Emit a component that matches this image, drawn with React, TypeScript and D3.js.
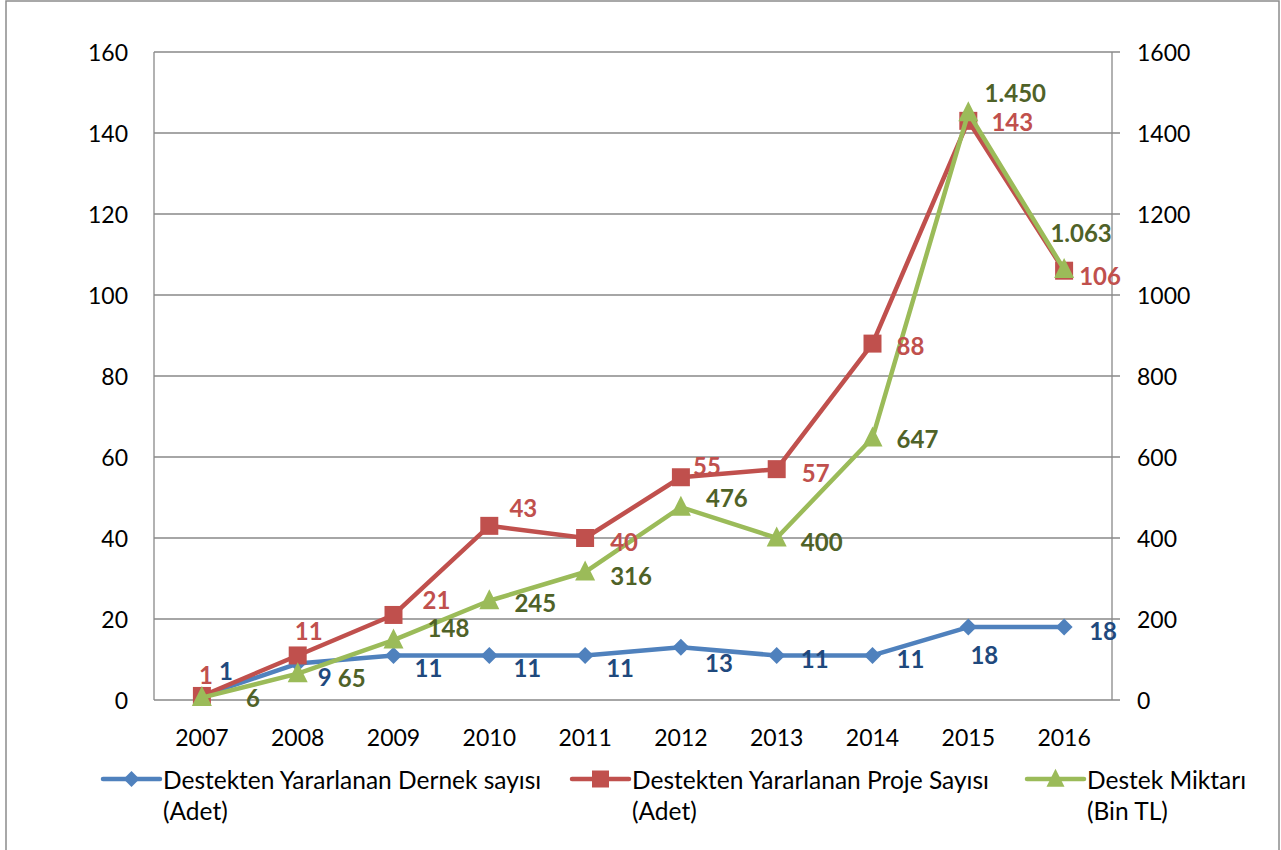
import React from "react";
import * as d3 from "d3";

const years = ["2007", "2008", "2009", "2010", "2011", "2012", "2013", "2014", "2015", "2016"];
const dernekSayisi = [1, 9, 11, 11, 11, 13, 11, 11, 18, 18];
const projeSayisi = [1, 11, 21, 43, 40, 55, 57, 88, 143, 106];
const destekMiktari = [6, 65, 148, 245, 316, 476, 400, 647, 1450, 1063];
const destekLabels = ["6", "65", "148", "245", "316", "476", "400", "647", "1.450", "1.063"];
const leftTicks = [0, 20, 40, 60, 80, 100, 120, 140, 160];
const rightTicks = [0, 200, 400, 600, 800, 1000, 1200, 1400, 1600];
const legendNames = [
  ["Destekten Yararlanan Dernek sayısı", "(Adet)"],
  ["Destekten Yararlanan Proje Sayısı", "(Adet)"],
  ["Destek Miktarı", "(Bin TL)"],
];

// label offsets (layout only)
const blueOff = [[24, -25], [27, 13], [35, 12], [38, 12], [35, 12], [38, 15], [38, 3], [38, 3], [16, 27], [39, 3]];
const redOff = [[4, -21], [11, -25], [43, -15], [34, -18], [39, 3], [26, -12], [39, 3], [38, 2], [44, 1], [36, 5]];
const greenOff = [[51, 0], [54, 4], [55, -13], [46, 2], [46, 3], [46, -10], [45, 3], [45, 1], [47, -20], [17, -37]];

const W = 1281, H = 850;
const L = 154, R = 1112, T = 52, B = 700;
const FONT = "Lato, 'Open Sans', sans-serif";
const BLUE = "#4F81BD", RED = "#C0504D", GREEN = "#9BBB59";
const BLUE_T = "#1F497D", RED_T = "#C0504D", GREEN_T = "#4F6228";

export default function App() {
  const x = d3.scaleBand().domain(years).range([L, R]);
  const cx = (i: number) => (x(years[i]) as number) + x.bandwidth() / 2;
  const yL = d3.scaleLinear().domain([0, 160]).range([B, T]);
  const yR = d3.scaleLinear().domain([0, 1600]).range([B, T]);
  const line = d3.line<[number, number]>().x(d => d[0]).y(d => d[1]);

  const blueP = dernekSayisi.map((v, i) => [cx(i), yL(v)] as [number, number]);
  const redP = projeSayisi.map((v, i) => [cx(i), yL(v)] as [number, number]);
  const greenP = destekMiktari.map((v, i) => [cx(i), yR(v)] as [number, number]);

  const diamond = (px: number, py: number, s = 8.5) => `M${px},${py - s}L${px + s},${py}L${px},${py + s}L${px - s},${py}Z`;
  const square = (px: number, py: number, s = 9) => `M${px - s},${py - s}h${2 * s}v${2 * s}h${-2 * s}Z`;
  const tri = (px: number, py: number, s = 10) => `M${px},${py - s * 1.15}L${px + s},${py + s * 0.85}L${px - s},${py + s * 0.85}Z`;

  const legendX = [103, 572, 1027];
  const markers = [
    (px: number, py: number) => <path d={diamond(px, py, 8)} fill={BLUE} />,
    (px: number, py: number) => <path d={square(px, py, 8.5)} fill={RED} />,
    (px: number, py: number) => <path d={tri(px, py, 9)} fill={GREEN} />,
  ];
  const legendColors = [BLUE, RED, GREEN];

  return (
    <svg width={W} height={H} style={{ position: "absolute", left: 0, top: 0 }} fontFamily={FONT}>
      <rect x={0} y={0} width={W} height={H} fill="#fff" />
      <rect x={6} y={1} width={1273} height={900} fill="none" stroke="#8c8c8c" strokeWidth={1.5} />
      {leftTicks.map(t => (
        <line key={"g" + t} x1={L} x2={R + 8} y1={yL(t)} y2={yL(t)} stroke="#898989" strokeWidth={1.3} />
      ))}
      <line x1={L} x2={L} y1={T} y2={B} stroke="#898989" strokeWidth={1.3} />
      <line x1={R} x2={R} y1={T} y2={B} stroke="#898989" strokeWidth={1.3} />
      {leftTicks.map(t => (
        <text key={"l" + t} x={128} y={yL(t)} textAnchor="end" dominantBaseline="central" fontSize={23} fill="#000">{t}</text>
      ))}
      {rightTicks.map(t => (
        <text key={"r" + t} x={1137} y={yR(t)} textAnchor="start" dominantBaseline="central" fontSize={23} fill="#000">{t}</text>
      ))}
      {years.map((yr, i) => (
        <text key={yr} x={cx(i)} y={737} textAnchor="middle" dominantBaseline="central" fontSize={23} fill="#000">{yr}</text>
      ))}

      <path d={line(blueP) as string} fill="none" stroke={BLUE} strokeWidth={4.5} strokeLinejoin="round" />
      {blueP.map((p, i) => <path key={"bm" + i} d={diamond(p[0], p[1])} fill={BLUE} />)}
      <path d={line(redP) as string} fill="none" stroke={RED} strokeWidth={4.5} strokeLinejoin="round" />
      {redP.map((p, i) => <path key={"rm" + i} d={square(p[0], p[1])} fill={RED} />)}
      <path d={line(greenP) as string} fill="none" stroke={GREEN} strokeWidth={4.5} strokeLinejoin="round" />
      {greenP.map((p, i) => <path key={"gm" + i} d={tri(p[0], p[1])} fill={GREEN} />)}

      {blueP.map((p, i) => (
        <text key={"bl" + i} x={p[0] + blueOff[i][0]} y={p[1] + blueOff[i][1]} textAnchor="middle" dominantBaseline="central" fontSize={24} fontWeight="bold" fill={BLUE_T}>{dernekSayisi[i]}</text>
      ))}
      {redP.map((p, i) => (
        <text key={"rl" + i} x={p[0] + redOff[i][0]} y={p[1] + redOff[i][1]} textAnchor="middle" dominantBaseline="central" fontSize={24} fontWeight="bold" fill={RED_T}>{projeSayisi[i]}</text>
      ))}
      {greenP.map((p, i) => (
        <text key={"gl" + i} x={p[0] + greenOff[i][0]} y={p[1] + greenOff[i][1]} textAnchor="middle" dominantBaseline="central" fontSize={24} fontWeight="bold" fill={GREEN_T}>{destekLabels[i]}</text>
      ))}

      {legendNames.map((nm, k) => (
        <g key={"lg" + k}>
          <line x1={legendX[k]} x2={legendX[k] + 57} y1={779} y2={779} stroke={legendColors[k]} strokeWidth={4.5} strokeLinecap="round" />
          {markers[k](legendX[k] + 28.5, 779)}
          <text x={legendX[k] + 60} y={779} dominantBaseline="central" fontSize={24.5} fill="#000">{nm[0]}</text>
          <text x={legendX[k] + 60} y={810} dominantBaseline="central" fontSize={24.5} fill="#000">{nm[1]}</text>
        </g>
      ))}
    </svg>
  );
}
